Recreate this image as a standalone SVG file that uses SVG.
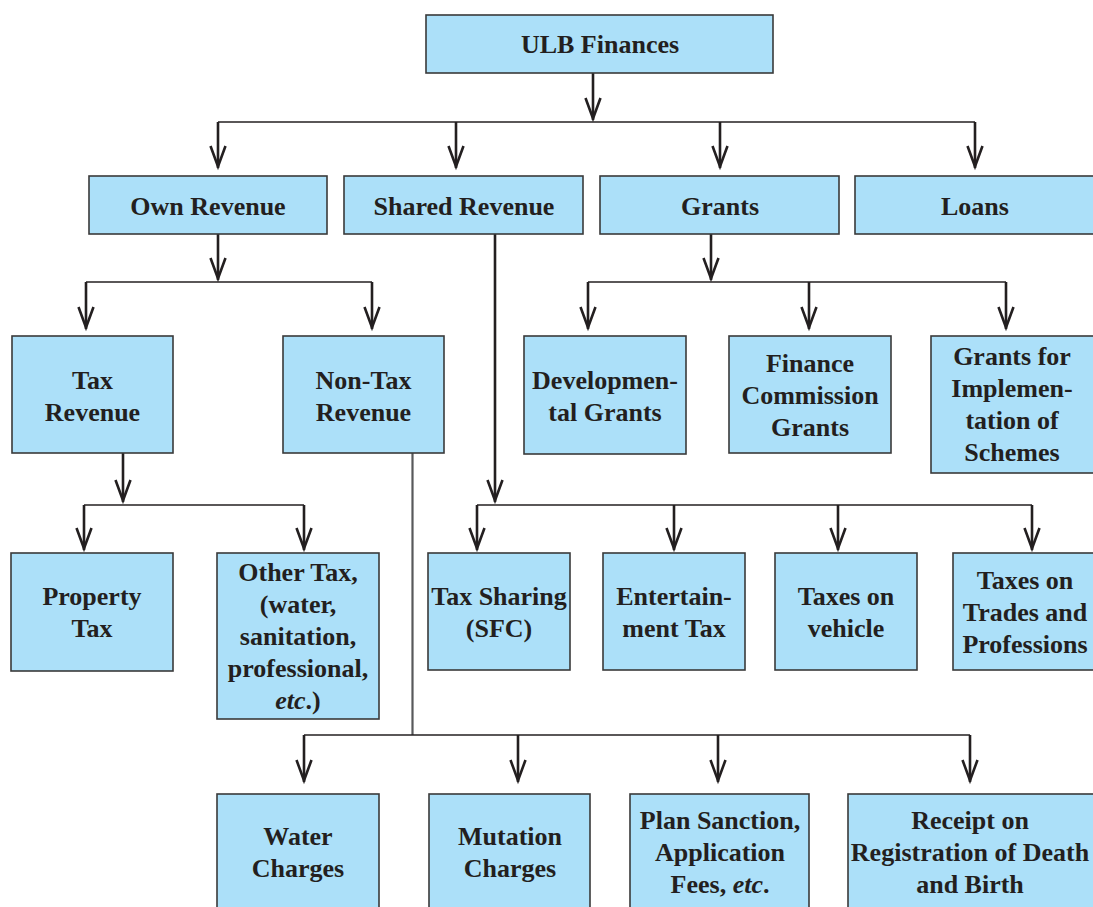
<svg xmlns="http://www.w3.org/2000/svg" width="1093" height="907" viewBox="0 0 1093 907">
<defs>
<style>
.box{fill:#ace0f9;stroke:#3a3a3a;stroke-width:1.6}
.t{font-family:"Liberation Serif","Times New Roman",serif;font-weight:bold;font-size:26px;fill:#231f20;text-anchor:middle}
.i{font-style:italic}
.sh{stroke:#231f20;stroke-width:2.6;fill:none;marker-end:url(#arr)}
.hl{stroke:#231f20;stroke-width:1.7;fill:none}
.gl{stroke:#58595b;stroke-width:2.2;fill:none}
</style>
<marker id="arr" markerUnits="userSpaceOnUse" markerWidth="40" markerHeight="30" viewBox="-30 -15 40 30" refX="0" refY="0" orient="auto" overflow="visible">
<path d="M-22,-7.5 L-1.5,0 L-22,7.5" fill="none" stroke="#231f20" stroke-width="2.6"/>
</marker>
</defs>
<rect width="1093" height="907" fill="#ffffff"/>
<g id="connectors">
<path class="sh" d="M593,73 V120"/>
<path class="hl" d="M218,122 H975"/>
<path class="sh" d="M218,122 V168"/>
<path class="sh" d="M456,122 V168"/>
<path class="sh" d="M720,122 V168"/>
<path class="sh" d="M975,122 V168"/>
<path class="sh" d="M218,234 V280"/>
<path class="hl" d="M86,282 H372"/>
<path class="sh" d="M86,282 V329"/>
<path class="sh" d="M372,282 V329"/>
<path class="sh" d="M711,234 V280"/>
<path class="hl" d="M588,282 H1006"/>
<path class="sh" d="M588,282 V329"/>
<path class="sh" d="M809,282 V329"/>
<path class="sh" d="M1006,282 V329"/>
<path class="sh" d="M495,234 V502"/>
<path class="hl" d="M477,505 H1032"/>
<path class="sh" d="M477,505 V550"/>
<path class="sh" d="M674,505 V550"/>
<path class="sh" d="M838,505 V550"/>
<path class="sh" d="M1032,505 V550"/>
<path class="sh" d="M123,453 V502"/>
<path class="hl" d="M84,505 H304"/>
<path class="sh" d="M84,505 V550"/>
<path class="sh" d="M304,505 V550"/>
<path class="gl" d="M412.5,453 V735"/>
<path class="hl" d="M304,735 H970"/>
<path class="sh" d="M304,735 V782"/>
<path class="sh" d="M518,735 V782"/>
<path class="sh" d="M718,735 V782"/>
<path class="sh" d="M970,735 V782"/>
</g>
<g id="ulb"><rect class="box" x="426" y="15" width="347" height="58"/><text class="t" x="600" y="53">ULB Finances</text></g>
<g id="own"><rect class="box" x="89" y="176" width="238" height="58"/><text class="t" x="208" y="215">Own Revenue</text></g>
<g id="shared"><rect class="box" x="344" y="176" width="239" height="58"/><text class="t" x="464" y="215">Shared Revenue</text></g>
<g id="grants"><rect class="box" x="600" y="176" width="239" height="58"/><text class="t" x="720" y="215">Grants</text></g>
<g id="loans"><rect class="box" x="855" y="176" width="245" height="58"/><text class="t" x="975" y="215">Loans</text></g>
<g id="taxrev"><rect class="box" x="12" y="336" width="161" height="117"/><text class="t" x="92.5" y="389">Tax</text><text class="t" x="92.5" y="421">Revenue</text></g>
<g id="nontax"><rect class="box" x="283" y="336" width="161" height="117"/><text class="t" x="363.5" y="389">Non-Tax</text><text class="t" x="363.5" y="421">Revenue</text></g>
<g id="devgrants"><rect class="box" x="524" y="336" width="162" height="118"/><text class="t" x="605" y="389">Developmen-</text><text class="t" x="605" y="421">tal Grants</text></g>
<g id="fcgrants"><rect class="box" x="729" y="336" width="162" height="117"/><text class="t" x="810" y="372">Finance</text><text class="t" x="810" y="404">Commission</text><text class="t" x="810" y="436">Grants</text></g>
<g id="schemes"><rect class="box" x="931" y="336" width="170" height="137"/><text class="t" x="1012" y="365">Grants for</text><text class="t" x="1012" y="397">Implemen-</text><text class="t" x="1012" y="429">tation of</text><text class="t" x="1012" y="461">Schemes</text></g>
<g id="property"><rect class="box" x="11" y="553" width="162" height="118"/><text class="t" x="92" y="605">Property</text><text class="t" x="92" y="637">Tax</text></g>
<g id="othertax"><rect class="box" x="217" y="553" width="162" height="166"/><text class="t" x="298" y="581">Other Tax,</text><text class="t" x="298" y="613">(water,</text><text class="t" x="298" y="645">sanitation,</text><text class="t" x="298" y="677">professional,</text><text class="t" x="298" y="709"><tspan class="i">etc</tspan>.)</text></g>
<g id="taxsharing"><rect class="box" x="428" y="553" width="142" height="117"/><text class="t" x="499" y="605">Tax Sharing</text><text class="t" x="499" y="637">(SFC)</text></g>
<g id="entertainment"><rect class="box" x="603" y="553" width="142" height="117"/><text class="t" x="674" y="605">Entertain-</text><text class="t" x="674" y="637">ment Tax</text></g>
<g id="vehicle"><rect class="box" x="775" y="553" width="142" height="117"/><text class="t" x="846" y="605">Taxes on</text><text class="t" x="846" y="637">vehicle</text></g>
<g id="trades"><rect class="box" x="953" y="553" width="150" height="117"/><text class="t" x="1025" y="589">Taxes on</text><text class="t" x="1025" y="621">Trades and</text><text class="t" x="1025" y="653">Professions</text></g>
<g id="water"><rect class="box" x="217" y="794" width="162" height="130"/><text class="t" x="298" y="845">Water</text><text class="t" x="298" y="877">Charges</text></g>
<g id="mutation"><rect class="box" x="429" y="794" width="161" height="130"/><text class="t" x="510" y="845">Mutation</text><text class="t" x="510" y="877">Charges</text></g>
<g id="plan"><rect class="box" x="630" y="794" width="179" height="130"/><text class="t" x="720" y="829">Plan Sanction,</text><text class="t" x="720" y="861">Application</text><text class="t" x="720" y="893">Fees, <tspan class="i">etc</tspan>.</text></g>
<g id="receipt"><rect class="box" x="848" y="794" width="252" height="130"/><text class="t" x="970" y="829">Receipt on</text><text class="t" x="970" y="861">Registration of Death</text><text class="t" x="970" y="893">and Birth</text></g>
</svg>
